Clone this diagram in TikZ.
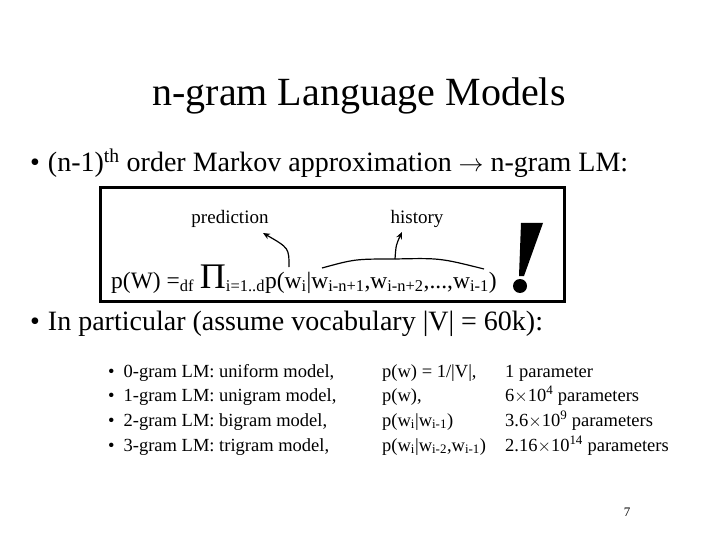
\documentclass[tikz,border=0pt]{standalone}
\usepackage{fontspec}
\setmainfont{Liberation Serif}
\usetikzlibrary{arrows.meta}
\begin{document}
\begin{tikzpicture}[x=1pt,y=-1pt,
  txt/.style={inner sep=0pt,anchor=base west},
  lbl/.style={inner sep=0pt,font=\fontsize{19}{22}\selectfont},
  li/.style={inner sep=0pt,anchor=base west,font=\fontsize{18.5}{22}\selectfont},
  con/.style={-{Stealth[length=7pt,width=6pt]},line width=1.2pt}]
\fill[white] (0,0) rectangle (720,540);
\useasboundingbox (0,0) rectangle (720,540);
\node[inner sep=0pt,font=\fontsize{40}{46}\selectfont] (title) at (359,96) {n-gram Language Models};
\node[txt,font=\fontsize{28}{32}\selectfont] (b1) at (30,172) {•\hspace{8pt}(n-1)\textsuperscript{th} order Markov approximation $\rightarrow$ n-gram LM:};
\draw[line width=3pt] (100,188) rectangle (564,301);
\node[lbl] (pred) at (230,219) {prediction};
\node[lbl] (hist) at (417,219) {history};
\node[txt,font=\fontsize{23.5}{28}\selectfont] (form) at (111,288) {p(W) =\textsubscript{df} {\fontsize{36}{36}\selectfont Π}\textsubscript{i=1..d}p(w\textsubscript{i}|w\textsubscript{i-n+1},w\textsubscript{i-n+2},...,w\textsubscript{i-1})};
\fill (521,223) -- (543,223) -- (524,276) -- (519,276) -- cycle;
\fill (520,286) circle (7);
\coordinate (pa) at (289,267);
\coordinate (pb) at (263,233);
\draw[con] (pa) .. controls (289,248) .. (pb);
\coordinate (h1) at (322,268);
\coordinate (h2) at (484,269);
\coordinate (hm) at (395,259);
\coordinate (ht) at (402,232);
\draw[line width=1.2pt] (h1) .. controls (355,259) .. (hm) .. controls (440,258) .. (h2);
\draw[con] (hm) .. controls (396,245) .. (ht);
\node[txt,font=\fontsize{28}{32}\selectfont] (b2) at (30,330) {•\hspace{8pt}In particular (assume vocabulary |V| = 60k):};
\node[li] (r1a) at (108,377) {•\hspace{9pt}0-gram LM: uniform model,};
\node[li] (r2a) at (108,401) {•\hspace{9pt}1-gram LM: unigram model,};
\node[li] (r3a) at (108,426) {•\hspace{9pt}2-gram LM: bigram model,};
\node[li] (r4a) at (108,451) {•\hspace{9pt}3-gram LM: trigram model,};
\node[li] (r1b) at (382,377) {p(w) = 1/|V|,};
\node[li] (r2b) at (382,401) {p(w),};
\node[li] (r3b) at (382,426) {p(w\textsubscript{i}|w\textsubscript{i-1})};
\node[li] (r4b) at (382,451) {p(w\textsubscript{i}|w\textsubscript{i-2},w\textsubscript{i-1})};
\node[li] (r1c) at (505,377) {1 parameter};
\node[li] (r2c) at (505,401) {6$\times$10\textsuperscript{4} parameters};
\node[li] (r3c) at (505,426) {3.6$\times$10\textsuperscript{9} parameters};
\node[li] (r4c) at (505,451) {2.16$\times$10\textsuperscript{14} parameters};
\node[inner sep=0pt,font=\fontsize{13}{15}\selectfont] (pg) at (627,512) {7};
\end{tikzpicture}
\end{document}
